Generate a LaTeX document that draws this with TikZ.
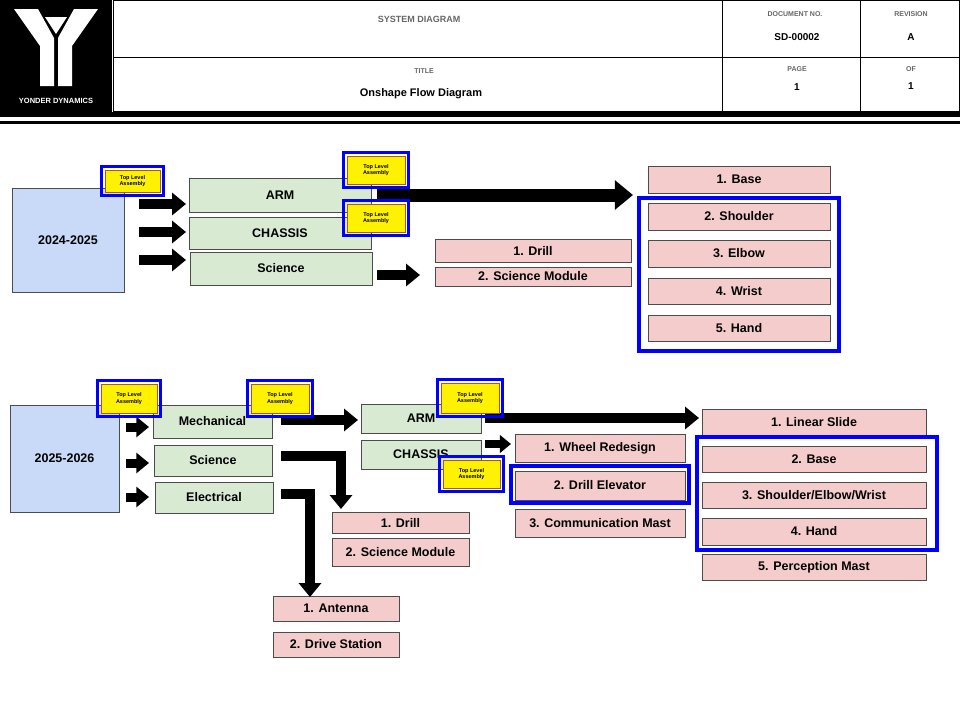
\documentclass[tikz,border=0pt]{standalone}
\usepackage{fontspec}
\setmainfont{Liberation Sans}
\usetikzlibrary{arrows.meta}
\definecolor{gbox}{HTML}{D9EAD3}
\definecolor{pbox}{HTML}{F4CCCC}
\definecolor{bbox}{HTML}{C9DAF8}
\definecolor{hgray}{HTML}{666666}
\tikzset{
 box/.style={draw=black!70,line width=0.6pt,inner sep=0pt,font=\fontsize{12.5}{14}\selectfont\bfseries},
 green/.style={box,fill=gbox},
 pink/.style={box,fill=pbox},
 year/.style={box,fill=bbox},
 tla/.style={draw=orange!70!black,line width=0.5pt,fill=yellow,inner sep=0pt,align=center,font=\fontsize{5.5}{6.5}\selectfont\bfseries},
 frame/.style={draw=blue,line width=3.5pt},
 blk/.style={line width=#1,-{Triangle[width=2.2*#1,length=1.4*#1]}},
 blk/.default=10pt,
 hsmall/.style={text=hgray,font=\fontsize{7}{8}\selectfont\bfseries},
 hbig/.style={font=\fontsize{10}{12}\selectfont\bfseries},
}
\newcommand\bx[7]{\node[#6,minimum width={#4-#2},minimum height={#5-#3}] (#1) at ({(#2+#4)/2},{(#3+#5)/2}) {#7};}
\newcommand\tl[5]{\node[tla,minimum width={#4-#2},minimum height={#5-#3}] (#1) at ({(#2+#4)/2},{(#3+#5)/2}) {Top Level\\Assembly};
 \draw[frame] (#2-3.5,#3-3.5) rectangle (#4+3.5,#5+3.5);}
\begin{document}
\begin{tikzpicture}[x=1pt,y=-1pt]
\useasboundingbox (0,0) rectangle (960,720);
% header
\fill[black] (0,0) rectangle (112,112);
\fill[white] (14,9)--(38,9)--(54,38)--(54,86)--(40,86)--(40,46)--cycle;
\fill[white] (98,9)--(74,9)--(58,38)--(58,86)--(72,86)--(72,46)--cycle;
\fill[white] (45,17)--(67,17)--(56,34)--cycle;
\node[text=white,font=\fontsize{7.5}{9}\selectfont\bfseries] (logo) at (56,101) {YONDER DYNAMICS};
\draw[line width=0.8pt] (113,0.5) rectangle (959.5,111);
\draw[line width=0.6pt] (113,57)--(959.5,57) (722,0)--(722,111) (860,0)--(860,111);
\fill[black] (0,112) rectangle (960,117);
\fill[black] (0,121) rectangle (960,124);
\node[hsmall,font=\fontsize{9}{11}\selectfont\bfseries] (sd) at (419,19) {SYSTEM DIAGRAM};
\node[hsmall] (dn) at (795,14) {DOCUMENT NO.};
\node[hbig] (dnv) at (797,37) {SD-00002};
\node[hsmall] (rv) at (911,14) {REVISION};
\node[hbig] (rvv) at (911,37) {A};
\node[hsmall] (ti) at (424,71) {TITLE};
\node[font=\fontsize{11}{13}\selectfont\bfseries] (tiv) at (421,94) {Onshape Flow Diagram};
\node[hsmall] (pg) at (797,69) {PAGE};
\node[hbig] (pgv) at (797,87) {1};
\node[hsmall] (of) at (911,69) {OF};
\node[hbig] (ofv) at (911,86) {1};
% section 1
\bx{y1}{12}{188}{124}{292}{year}{2024-2025}
\bx{arm1}{189}{178}{371}{212}{green}{ARM}
\bx{ch1}{189}{217}{371}{249}{green}{CHASSIS}
\bx{sc1}{190}{252}{372}{285}{green}{Science}
\bx{dr1}{435}{239}{631}{262}{pink}{1. Drill}
\bx{sm1}{435}{267}{631}{286}{pink}{2. Science Module}
\bx{ba1}{648}{166}{830}{193}{pink}{1. Base}
\bx{sh1}{648}{203}{830}{230}{pink}{2. Shoulder}
\bx{el1}{648}{240}{830}{267}{pink}{3. Elbow}
\bx{wr1}{648}{278}{830}{304}{pink}{4. Wrist}
\bx{ha1}{648}{315}{830}{341}{pink}{5. Hand}
\draw[frame] (639,198) rectangle (839,351);
\coordinate (a1s) at (139,204); \coordinate (a1e) at (186,204);
\coordinate (a2s) at (139,232); \coordinate (a2e) at (186,232);
\coordinate (a3s) at (139,260); \coordinate (a3e) at (186,260);
\draw[blk] (a1s)--(a1e); \draw[blk] (a2s)--(a2e); \draw[blk] (a3s)--(a3e);
\coordinate (b1s) at (377,195); \coordinate (b1e) at (633,195);
\draw[blk=13pt] (b1s)--(b1e);
\coordinate (b2s) at (377,275); \coordinate (b2e) at (420,275);
\draw[blk] (b2s)--(b2e);
\tl{t1}{105}{170}{160}{192}
\tl{t2}{347}{156}{405}{184}
\tl{t3}{347}{204}{405}{232}
% section 2
\bx{y2}{10}{405}{119}{512}{year}{2025-2026}
\bx{me2}{153}{405}{272}{438}{green}{Mechanical}
\bx{sc2}{154}{445}{272}{476}{green}{Science}
\bx{ee2}{155}{482}{273}{513}{green}{Electrical}
\bx{arm2}{361}{404}{481}{433}{green}{ARM}
\bx{ch2}{361}{440}{481}{469}{green}{CHASSIS}
\bx{dr2}{332}{512}{469}{533}{pink}{1. Drill}
\bx{sm2}{332}{538}{469}{566}{pink}{2. Science Module}
\bx{an2}{273}{596}{399}{621}{pink}{1. Antenna}
\bx{ds2}{273}{632}{399}{657}{pink}{2. Drive Station}
\bx{wh2}{515}{434}{685}{462}{pink}{1. Wheel Redesign}
\bx{de2}{515}{471}{685}{500}{pink}{2. Drill Elevator}
\bx{cm2}{515}{509}{685}{537}{pink}{3. Communication Mast}
\draw[frame] (511,466) rectangle (689,503);
\bx{ls2}{702}{409}{926}{436}{pink}{1. Linear Slide}
\bx{ba2}{702}{446}{926}{472}{pink}{2. Base}
\bx{sew2}{702}{482}{926}{508}{pink}{3. Shoulder/Elbow/Wrist}
\bx{ha2}{702}{518}{926}{545}{pink}{4. Hand}
\bx{pm2}{702}{554}{926}{580}{pink}{5. Perception Mast}
\draw[frame] (697,437) rectangle (937,550);
\coordinate (c1s) at (126,427); \coordinate (c1e) at (149,427);
\coordinate (c2s) at (126,463); \coordinate (c2e) at (149,463);
\coordinate (c3s) at (126,497); \coordinate (c3e) at (149,497);
\draw[blk=9pt] (c1s)--(c1e); \draw[blk=9pt] (c2s)--(c2e); \draw[blk=9pt] (c3s)--(c3e);
\coordinate (d1s) at (281,420); \coordinate (d1e) at (358,420);
\draw[blk] (d1s)--(d1e);
\coordinate (d2s) at (485,418); \coordinate (d2e) at (699,418);
\draw[blk] (d2s)--(d2e);
\coordinate (d3s) at (485,444); \coordinate (d3e) at (511,444);
\draw[blk=8pt] (d3s)--(d3e);
\coordinate (e1s) at (281,456); \coordinate (e1m) at (341,456); \coordinate (e1e) at (341,509);
\draw[blk,line join=miter] (e1s)--(e1m)--(e1e);
\coordinate (e2s) at (281,494); \coordinate (e2m) at (310,494); \coordinate (e2e) at (310,597);
\draw[blk,line join=miter] (e2s)--(e2m)--(e2e);
\tl{t4}{101}{384}{157}{413}
\tl{t5}{251}{384}{309}{413}
\tl{t6}{441}{383}{499}{413}
\tl{t7}{443}{460}{500}{488}
\end{tikzpicture}
\end{document}
